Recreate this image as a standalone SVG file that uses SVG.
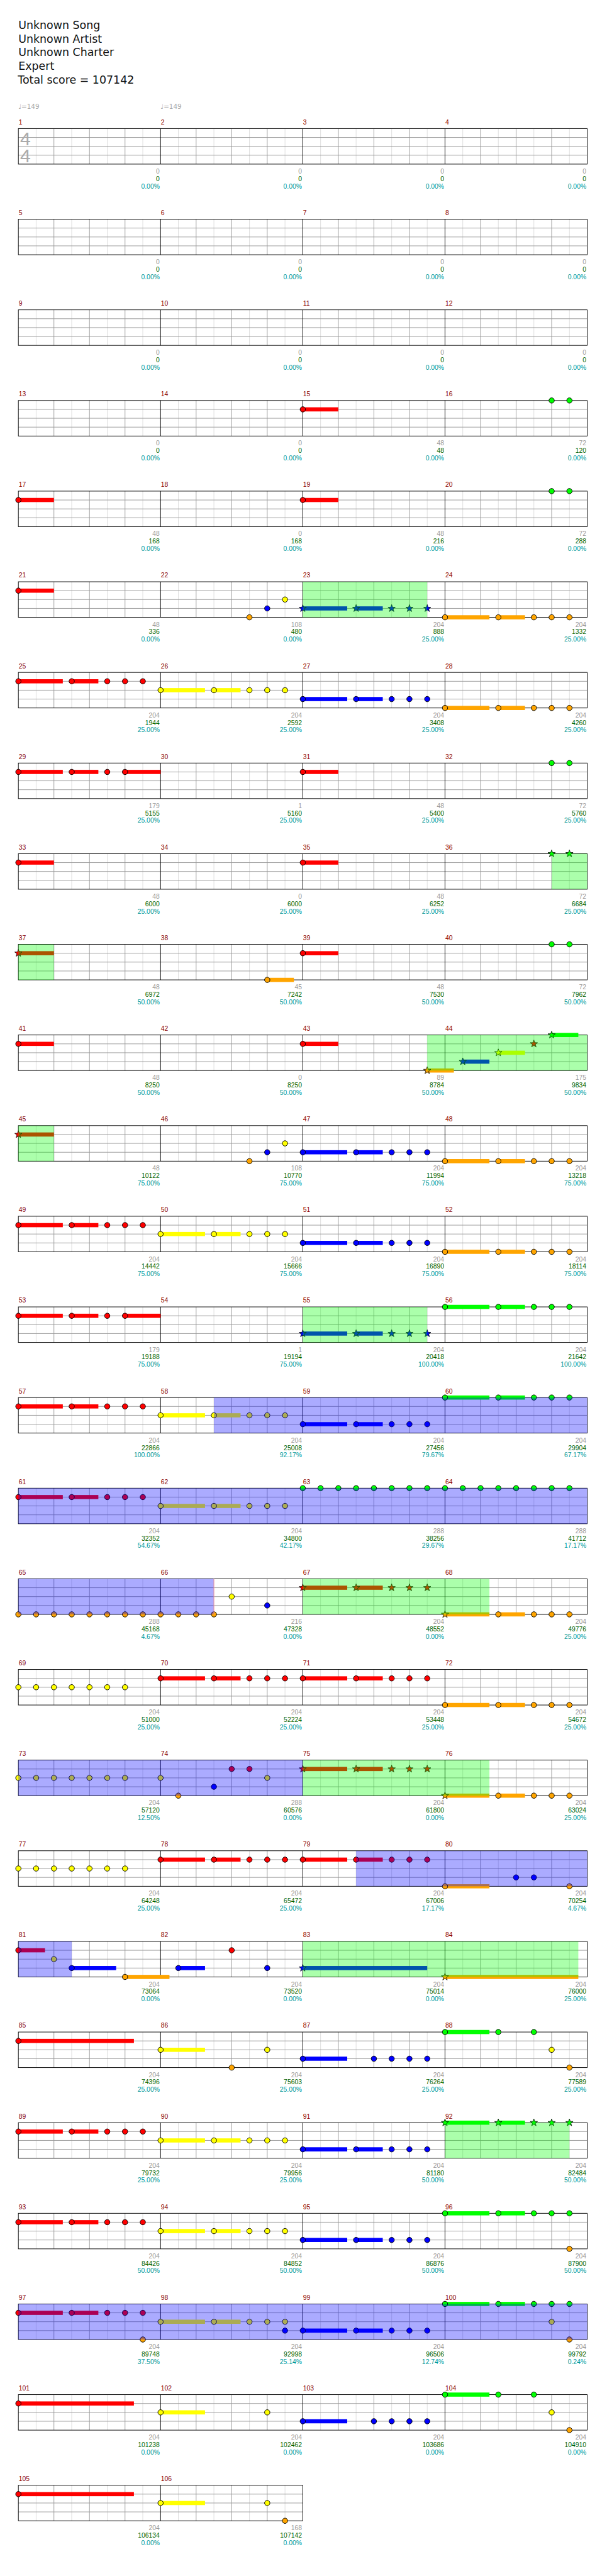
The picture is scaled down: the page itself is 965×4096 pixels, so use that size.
<svg xmlns="http://www.w3.org/2000/svg" xmlns:xlink="http://www.w3.org/1999/xlink" width="965" height="4096" viewBox="0 0 965 4096">
<style>
text{font-family:"Liberation Sans",Arial,sans-serif;font-size:11px}
.t{font-family:"DejaVu Sans",sans-serif;font-size:18.5px;fill:#111}
.mn{fill:#8b0000}
.s1{fill:#999;text-anchor:end}
.s2{fill:#006400;text-anchor:end}
.s3{fill:#099;text-anchor:end}
.tempo{fill:#aaa;font-family:"DejaVu Sans",sans-serif}
.ts{font-size:32px;fill:#aaa}
.g{fill:#0f0}.r{fill:#f00}.y{fill:#ff0}.b{fill:#00f}.o{fill:#ffa500}
.og{fill:#0f0;fill-opacity:.33}
.ob{fill:#00f;fill-opacity:.33}
</style>
<defs>
<g id="staff">
<path fill="none" stroke="#ddd" d="M30,0V60M90,0V60M150,0V60M210,0V60M270,0V60M330,0V60M390,0V60M450,0V60M510,0V60M570,0V60M630,0V60M690,0V60M750,0V60M810,0V60M870,0V60M930,0V60"/>
<path fill="none" stroke="#999" d="M0,15H960M0,30H960M0,45H960M60,0V60M120,0V60M180,0V60M300,0V60M360,0V60M420,0V60M540,0V60M600,0V60M660,0V60M780,0V60M840,0V60M900,0V60"/>
<path fill="none" stroke="#000" d="M240,0V60M480,0V60M720,0V60"/>
<rect width="960" height="60" fill="none" stroke="#000"/>
</g>
<g id="staff2">
<path fill="none" stroke="#ddd" d="M30,0V60M90,0V60M150,0V60M210,0V60M270,0V60M330,0V60M390,0V60M450,0V60"/>
<path fill="none" stroke="#999" d="M0,15H480M0,30H480M0,45H480M60,0V60M120,0V60M180,0V60M300,0V60M360,0V60M420,0V60"/>
<path fill="none" stroke="#000" d="M240,0V60"/>
<rect width="480" height="60" fill="none" stroke="#000"/>
</g>
<circle id="c" r="4.5" stroke="#000"/>
<path id="st" stroke="#000" stroke-width=".8" d="M0,-6.5L1.53,-2.1L6.18,-2.01L2.47,.8L3.82,5.26L0,2.6L-3.82,5.26L-2.47,.8L-6.18,-2.01L-1.53,-2.1Z"/>
<g id="P"><rect y="-3.5" width="75" height="7"/><rect x="90" y="-3.5" width="45" height="7"/><use href="#c"/><use href="#c" x="90"/><use href="#c" x="150"/><use href="#c" x="180"/><use href="#c" x="210"/></g>
<g id="PS"><rect y="-3.5" width="75" height="7"/><rect x="90" y="-3.5" width="45" height="7"/><use href="#st"/><use href="#st" x="90"/><use href="#st" x="150"/><use href="#st" x="180"/><use href="#st" x="210"/></g>
<g id="Q"><rect y="-3.5" width="75" height="7"/><rect x="90" y="-3.5" width="45" height="7"/><rect x="180" y="-3.5" width="60" height="7"/><use href="#c"/><use href="#c" x="90"/><use href="#c" x="150"/><use href="#c" x="180"/></g>
<g id="S1"><rect y="-3.5" width="60" height="7"/><use href="#c"/></g>
<g id="SS1"><rect y="-3.5" width="60" height="7"/><use href="#st"/></g>
<g id="T"><rect y="-3.5" width="45" height="7"/><use href="#st"/></g>
<g id="C45"><rect y="-3.5" width="45" height="7"/><use href="#c"/></g>
<g id="C75"><rect y="-3.5" width="75" height="7"/><use href="#c"/></g>
<g id="T75"><rect y="-3.5" width="75" height="7"/><use href="#st"/></g>
<g id="G2"><use href="#c"/><use href="#c" x="30"/></g>
<g id="E7"><use href="#c"/><use href="#c" x="30"/><use href="#c" x="60"/><use href="#c" x="90"/><use href="#c" x="120"/><use href="#c" x="150"/><use href="#c" x="180"/></g>
<g id="L"><rect y="-3.5" width="195" height="7"/><use href="#c"/></g>
<g id="zero">
<g class="s1"><text x="238.5" y="76">0</text><text x="478.5" y="76">0</text><text x="718.5" y="76">0</text><text x="958.5" y="76">0</text></g>
<g class="s2"><text x="238.5" y="88.5">0</text><text x="478.5" y="88.5">0</text><text x="718.5" y="88.5">0</text><text x="958.5" y="88.5">0</text></g>
<g class="s3"><text x="238.5" y="101">0.00%</text><text x="478.5" y="101">0.00%</text><text x="718.5" y="101">0.00%</text><text x="958.5" y="101">0.00%</text></g>
</g>
</defs>
<rect width="965" height="4096" fill="#fff"/>
<g transform="scale(0.942)">
<g id="header">
<text class="t" x="31" y="49">Unknown Song</text>
<text class="t" x="31" y="72">Unknown Artist</text>
<text class="t" x="31" y="95">Unknown Charter</text>
<text class="t" x="31" y="118">Expert</text>
<text class="t" x="30" y="141">Total score = 107142</text>
<text class="tempo" x="31" y="184">♩=149</text>
<text class="tempo" x="271" y="184">♩=149</text>
</g>

<g id="row1" transform="translate(31 217)">
<use href="#staff"/>
<text class="ts" x="3" y="28">4</text><text class="ts" x="3" y="57">4</text>
<g class="mn"><text x="0.5" y="-7">1</text><text x="240.5" y="-7">2</text><text x="480.5" y="-7">3</text><text x="720.5" y="-7">4</text></g>
<use href="#zero"/>
</g>

<g id="row2" transform="translate(31 370)">
<use href="#staff"/>
<g class="mn"><text x="0.5" y="-7">5</text><text x="240.5" y="-7">6</text><text x="480.5" y="-7">7</text><text x="720.5" y="-7">8</text></g>
<use href="#zero"/>
</g>

<g id="row3" transform="translate(31 523)">
<use href="#staff"/>
<g class="mn"><text x="0.5" y="-7">9</text><text x="240.5" y="-7">10</text><text x="480.5" y="-7">11</text><text x="720.5" y="-7">12</text></g>
<use href="#zero"/>
</g>

<g id="row4" transform="translate(31 676)">
<use href="#staff"/>
<g class="mn"><text x="0.5" y="-7">13</text><text x="240.5" y="-7">14</text><text x="480.5" y="-7">15</text><text x="720.5" y="-7">16</text></g>
<use href="#S1" x="480" y="15" class="r"/>
<use href="#G2" x="900" class="g"/>
<g class="s1"><text x="238.5" y="76">0</text><text x="478.5" y="76">0</text><text x="718.5" y="76">48</text><text x="958.5" y="76">72</text></g>
<g class="s2"><text x="238.5" y="88.5">0</text><text x="478.5" y="88.5">0</text><text x="718.5" y="88.5">48</text><text x="958.5" y="88.5">120</text></g>
<g class="s3"><text x="238.5" y="101">0.00%</text><text x="478.5" y="101">0.00%</text><text x="718.5" y="101">0.00%</text><text x="958.5" y="101">0.00%</text></g>
</g>

<g id="row5" transform="translate(31 829)">
<use href="#staff"/>
<g class="mn"><text x="0.5" y="-7">17</text><text x="240.5" y="-7">18</text><text x="480.5" y="-7">19</text><text x="720.5" y="-7">20</text></g>
<use href="#S1" y="15" class="r"/>
<use href="#S1" x="480" y="15" class="r"/>
<use href="#G2" x="900" class="g"/>
<g class="s1"><text x="238.5" y="76">48</text><text x="478.5" y="76">0</text><text x="718.5" y="76">48</text><text x="958.5" y="76">72</text></g>
<g class="s2"><text x="238.5" y="88.5">168</text><text x="478.5" y="88.5">168</text><text x="718.5" y="88.5">216</text><text x="958.5" y="88.5">288</text></g>
<g class="s3"><text x="238.5" y="101">0.00%</text><text x="478.5" y="101">0.00%</text><text x="718.5" y="101">0.00%</text><text x="958.5" y="101">0.00%</text></g>
</g>

<g id="row6" transform="translate(31 982)">
<use href="#staff"/>
<g class="mn"><text x="0.5" y="-7">21</text><text x="240.5" y="-7">22</text><text x="480.5" y="-7">23</text><text x="720.5" y="-7">24</text></g>
<use href="#S1" y="15" class="r"/>
<use href="#c" x="390" y="60" class="o"/>
<use href="#c" x="420" y="45" class="b"/>
<use href="#c" x="450" y="30" class="y"/>
<use href="#PS" x="480" y="45" class="b"/>
<use href="#P" x="720" y="60" class="o"/>
<rect class="og" x="480" width="210" height="60"/>
<g class="s1"><text x="238.5" y="76">48</text><text x="478.5" y="76">108</text><text x="718.5" y="76">204</text><text x="958.5" y="76">204</text></g>
<g class="s2"><text x="238.5" y="88.5">336</text><text x="478.5" y="88.5">480</text><text x="718.5" y="88.5">888</text><text x="958.5" y="88.5">1332</text></g>
<g class="s3"><text x="238.5" y="101">0.00%</text><text x="478.5" y="101">0.00%</text><text x="718.5" y="101">25.00%</text><text x="958.5" y="101">25.00%</text></g>
</g>

<g id="row7" transform="translate(31 1135)">
<use href="#staff"/>
<g class="mn"><text x="0.5" y="-7">25</text><text x="240.5" y="-7">26</text><text x="480.5" y="-7">27</text><text x="720.5" y="-7">28</text></g>
<use href="#P" y="15" class="r"/>
<use href="#P" x="240" y="30" class="y"/>
<use href="#P" x="480" y="45" class="b"/>
<use href="#P" x="720" y="60" class="o"/>
<g class="s1"><text x="238.5" y="76">204</text><text x="478.5" y="76">204</text><text x="718.5" y="76">204</text><text x="958.5" y="76">204</text></g>
<g class="s2"><text x="238.5" y="88.5">1944</text><text x="478.5" y="88.5">2592</text><text x="718.5" y="88.5">3408</text><text x="958.5" y="88.5">4260</text></g>
<g class="s3"><text x="238.5" y="101">25.00%</text><text x="478.5" y="101">25.00%</text><text x="718.5" y="101">25.00%</text><text x="958.5" y="101">25.00%</text></g>
</g>

<g id="row8" transform="translate(31 1288)">
<use href="#staff"/>
<g class="mn"><text x="0.5" y="-7">29</text><text x="240.5" y="-7">30</text><text x="480.5" y="-7">31</text><text x="720.5" y="-7">32</text></g>
<use href="#Q" y="15" class="r"/>
<use href="#S1" x="480" y="15" class="r"/>
<use href="#G2" x="900" class="g"/>
<g class="s1"><text x="238.5" y="76">179</text><text x="478.5" y="76">1</text><text x="718.5" y="76">48</text><text x="958.5" y="76">72</text></g>
<g class="s2"><text x="238.5" y="88.5">5155</text><text x="478.5" y="88.5">5160</text><text x="718.5" y="88.5">5400</text><text x="958.5" y="88.5">5760</text></g>
<g class="s3"><text x="238.5" y="101">25.00%</text><text x="478.5" y="101">25.00%</text><text x="718.5" y="101">25.00%</text><text x="958.5" y="101">25.00%</text></g>
</g>

<g id="row9" transform="translate(31 1441)">
<use href="#staff"/>
<g class="mn"><text x="0.5" y="-7">33</text><text x="240.5" y="-7">34</text><text x="480.5" y="-7">35</text><text x="720.5" y="-7">36</text></g>
<use href="#S1" y="15" class="r"/>
<use href="#S1" x="480" y="15" class="r"/>
<use href="#st" x="900" class="g"/><use href="#st" x="930" class="g"/>
<rect class="og" x="900" width="60" height="60"/>
<g class="s1"><text x="238.5" y="76">48</text><text x="478.5" y="76">0</text><text x="718.5" y="76">48</text><text x="958.5" y="76">72</text></g>
<g class="s2"><text x="238.5" y="88.5">6000</text><text x="478.5" y="88.5">6000</text><text x="718.5" y="88.5">6252</text><text x="958.5" y="88.5">6684</text></g>
<g class="s3"><text x="238.5" y="101">25.00%</text><text x="478.5" y="101">25.00%</text><text x="718.5" y="101">25.00%</text><text x="958.5" y="101">25.00%</text></g>
</g>

<g id="row10" transform="translate(31 1594)">
<use href="#staff"/>
<g class="mn"><text x="0.5" y="-7">37</text><text x="240.5" y="-7">38</text><text x="480.5" y="-7">39</text><text x="720.5" y="-7">40</text></g>
<use href="#SS1" y="15" class="r"/>
<use href="#C45" x="420" y="60" class="o"/>
<use href="#S1" x="480" y="15" class="r"/>
<use href="#G2" x="900" class="g"/>
<rect class="og" width="60" height="60"/>
<g class="s1"><text x="238.5" y="76">48</text><text x="478.5" y="76">45</text><text x="718.5" y="76">48</text><text x="958.5" y="76">72</text></g>
<g class="s2"><text x="238.5" y="88.5">6972</text><text x="478.5" y="88.5">7242</text><text x="718.5" y="88.5">7530</text><text x="958.5" y="88.5">7962</text></g>
<g class="s3"><text x="238.5" y="101">50.00%</text><text x="478.5" y="101">50.00%</text><text x="718.5" y="101">50.00%</text><text x="958.5" y="101">50.00%</text></g>
</g>

<g id="row11" transform="translate(31 1747)">
<use href="#staff"/>
<g class="mn"><text x="0.5" y="-7">41</text><text x="240.5" y="-7">42</text><text x="480.5" y="-7">43</text><text x="720.5" y="-7">44</text></g>
<use href="#S1" y="15" class="r"/>
<use href="#S1" x="480" y="15" class="r"/>
<use href="#T" x="690" y="60" class="o"/>
<use href="#T" x="750" y="45" class="b"/>
<use href="#T" x="810" y="30" class="y"/>
<use href="#st" x="870" y="15" class="r"/>
<use href="#T" x="900" y="0" class="g"/>
<rect class="og" x="690" width="270" height="60"/>
<g class="s1"><text x="238.5" y="76">48</text><text x="478.5" y="76">0</text><text x="718.5" y="76">89</text><text x="958.5" y="76">175</text></g>
<g class="s2"><text x="238.5" y="88.5">8250</text><text x="478.5" y="88.5">8250</text><text x="718.5" y="88.5">8784</text><text x="958.5" y="88.5">9834</text></g>
<g class="s3"><text x="238.5" y="101">50.00%</text><text x="478.5" y="101">50.00%</text><text x="718.5" y="101">50.00%</text><text x="958.5" y="101">50.00%</text></g>
</g>

<g id="row12" transform="translate(31 1900)">
<use href="#staff"/>
<g class="mn"><text x="0.5" y="-7">45</text><text x="240.5" y="-7">46</text><text x="480.5" y="-7">47</text><text x="720.5" y="-7">48</text></g>
<use href="#SS1" y="15" class="r"/>
<use href="#c" x="390" y="60" class="o"/>
<use href="#c" x="420" y="45" class="b"/>
<use href="#c" x="450" y="30" class="y"/>
<use href="#P" x="480" y="45" class="b"/>
<use href="#P" x="720" y="60" class="o"/>
<rect class="og" width="60" height="60"/>
<g class="s1"><text x="238.5" y="76">48</text><text x="478.5" y="76">108</text><text x="718.5" y="76">204</text><text x="958.5" y="76">204</text></g>
<g class="s2"><text x="238.5" y="88.5">10122</text><text x="478.5" y="88.5">10770</text><text x="718.5" y="88.5">11994</text><text x="958.5" y="88.5">13218</text></g>
<g class="s3"><text x="238.5" y="101">75.00%</text><text x="478.5" y="101">75.00%</text><text x="718.5" y="101">75.00%</text><text x="958.5" y="101">75.00%</text></g>
</g>

<g id="row13" transform="translate(31 2053)">
<use href="#staff"/>
<g class="mn"><text x="0.5" y="-7">49</text><text x="240.5" y="-7">50</text><text x="480.5" y="-7">51</text><text x="720.5" y="-7">52</text></g>
<use href="#P" y="15" class="r"/>
<use href="#P" x="240" y="30" class="y"/>
<use href="#P" x="480" y="45" class="b"/>
<use href="#P" x="720" y="60" class="o"/>
<g class="s1"><text x="238.5" y="76">204</text><text x="478.5" y="76">204</text><text x="718.5" y="76">204</text><text x="958.5" y="76">204</text></g>
<g class="s2"><text x="238.5" y="88.5">14442</text><text x="478.5" y="88.5">15666</text><text x="718.5" y="88.5">16890</text><text x="958.5" y="88.5">18114</text></g>
<g class="s3"><text x="238.5" y="101">75.00%</text><text x="478.5" y="101">75.00%</text><text x="718.5" y="101">75.00%</text><text x="958.5" y="101">75.00%</text></g>
</g>

<g id="row14" transform="translate(31 2206)">
<use href="#staff"/>
<g class="mn"><text x="0.5" y="-7">53</text><text x="240.5" y="-7">54</text><text x="480.5" y="-7">55</text><text x="720.5" y="-7">56</text></g>
<use href="#Q" y="15" class="r"/>
<use href="#PS" x="480" y="45" class="b"/>
<use href="#P" x="720" y="0" class="g"/>
<rect class="og" x="480" width="210" height="60"/>
<g class="s1"><text x="238.5" y="76">179</text><text x="478.5" y="76">1</text><text x="718.5" y="76">204</text><text x="958.5" y="76">204</text></g>
<g class="s2"><text x="238.5" y="88.5">19188</text><text x="478.5" y="88.5">19194</text><text x="718.5" y="88.5">20418</text><text x="958.5" y="88.5">21642</text></g>
<g class="s3"><text x="238.5" y="101">75.00%</text><text x="478.5" y="101">75.00%</text><text x="718.5" y="101">100.00%</text><text x="958.5" y="101">100.00%</text></g>
</g>

<g id="row15" transform="translate(31 2359)">
<use href="#staff"/>
<g class="mn"><text x="0.5" y="-7">57</text><text x="240.5" y="-7">58</text><text x="480.5" y="-7">59</text><text x="720.5" y="-7">60</text></g>
<use href="#P" y="15" class="r"/>
<use href="#P" x="240" y="30" class="y"/>
<use href="#P" x="480" y="45" class="b"/>
<use href="#P" x="720" y="0" class="g"/>
<rect class="ob" x="330" width="630" height="60"/>
<g class="s1"><text x="238.5" y="76">204</text><text x="478.5" y="76">204</text><text x="718.5" y="76">204</text><text x="958.5" y="76">204</text></g>
<g class="s2"><text x="238.5" y="88.5">22866</text><text x="478.5" y="88.5">25008</text><text x="718.5" y="88.5">27456</text><text x="958.5" y="88.5">29904</text></g>
<g class="s3"><text x="238.5" y="101">100.00%</text><text x="478.5" y="101">92.17%</text><text x="718.5" y="101">79.67%</text><text x="958.5" y="101">67.17%</text></g>
</g>

<g id="row16" transform="translate(31 2512)">
<use href="#staff"/>
<g class="mn"><text x="0.5" y="-7">61</text><text x="240.5" y="-7">62</text><text x="480.5" y="-7">63</text><text x="720.5" y="-7">64</text></g>
<use href="#P" y="15" class="r"/>
<use href="#P" x="240" y="30" class="y"/>
<g class="g"><use href="#c" x="480"/><use href="#c" x="510"/><use href="#c" x="540"/><use href="#c" x="570"/><use href="#c" x="600"/><use href="#c" x="630"/><use href="#c" x="660"/><use href="#c" x="690"/><use href="#c" x="720"/><use href="#c" x="750"/><use href="#c" x="780"/><use href="#c" x="810"/><use href="#c" x="840"/><use href="#c" x="870"/><use href="#c" x="900"/><use href="#c" x="930"/></g>
<rect class="ob" width="960" height="60"/>
<g class="s1"><text x="238.5" y="76">204</text><text x="478.5" y="76">204</text><text x="718.5" y="76">288</text><text x="958.5" y="76">288</text></g>
<g class="s2"><text x="238.5" y="88.5">32352</text><text x="478.5" y="88.5">34800</text><text x="718.5" y="88.5">38256</text><text x="958.5" y="88.5">41712</text></g>
<g class="s3"><text x="238.5" y="101">54.67%</text><text x="478.5" y="101">42.17%</text><text x="718.5" y="101">29.67%</text><text x="958.5" y="101">17.17%</text></g>
</g>

<g id="row17" transform="translate(31 2665)">
<use href="#staff"/>
<g class="mn"><text x="0.5" y="-7">65</text><text x="240.5" y="-7">66</text><text x="480.5" y="-7">67</text><text x="720.5" y="-7">68</text></g>
<g class="o"><use href="#c" x="0" y="60"/><use href="#c" x="30" y="60"/><use href="#c" x="60" y="60"/><use href="#c" x="90" y="60"/><use href="#c" x="120" y="60"/><use href="#c" x="150" y="60"/><use href="#c" x="180" y="60"/><use href="#c" x="210" y="60"/><use href="#c" x="240" y="60"/><use href="#c" x="270" y="60"/><use href="#c" x="300" y="60"/><use href="#c" x="330" y="60"/></g>
<use href="#c" x="360" y="30" class="y"/>
<use href="#c" x="420" y="45" class="b"/>
<use href="#PS" x="480" y="15" class="r"/>
<use href="#T75" x="720" y="60" class="o"/>
<use href="#C45" x="810" y="60" class="o"/>
<g class="o"><use href="#c" x="870" y="60"/><use href="#c" x="900" y="60"/><use href="#c" x="930" y="60"/></g>
<rect class="ob" width="330" height="60"/>
<path d="M330,0V60" stroke="#f99"/>
<rect class="og" x="480" width="315" height="60"/>
<g class="s1"><text x="238.5" y="76">288</text><text x="478.5" y="76">216</text><text x="718.5" y="76">204</text><text x="958.5" y="76">204</text></g>
<g class="s2"><text x="238.5" y="88.5">45168</text><text x="478.5" y="88.5">47328</text><text x="718.5" y="88.5">48552</text><text x="958.5" y="88.5">49776</text></g>
<g class="s3"><text x="238.5" y="101">4.67%</text><text x="478.5" y="101">0.00%</text><text x="718.5" y="101">0.00%</text><text x="958.5" y="101">25.00%</text></g>
</g>

<g id="row18" transform="translate(31 2818)">
<use href="#staff"/>
<g class="mn"><text x="0.5" y="-7">69</text><text x="240.5" y="-7">70</text><text x="480.5" y="-7">71</text><text x="720.5" y="-7">72</text></g>
<use href="#E7" y="30" class="y"/>
<use href="#P" x="240" y="15" class="r"/>
<use href="#P" x="480" y="15" class="r"/>
<use href="#P" x="720" y="60" class="o"/>
<g class="s1"><text x="238.5" y="76">204</text><text x="478.5" y="76">204</text><text x="718.5" y="76">204</text><text x="958.5" y="76">204</text></g>
<g class="s2"><text x="238.5" y="88.5">51000</text><text x="478.5" y="88.5">52224</text><text x="718.5" y="88.5">53448</text><text x="958.5" y="88.5">54672</text></g>
<g class="s3"><text x="238.5" y="101">25.00%</text><text x="478.5" y="101">25.00%</text><text x="718.5" y="101">25.00%</text><text x="958.5" y="101">25.00%</text></g>
</g>

<g id="row19" transform="translate(31 2971)">
<use href="#staff"/>
<g class="mn"><text x="0.5" y="-7">73</text><text x="240.5" y="-7">74</text><text x="480.5" y="-7">75</text><text x="720.5" y="-7">76</text></g>
<use href="#E7" y="30" class="y"/>
<use href="#c" x="240" y="30" class="y"/>
<use href="#c" x="270" y="60" class="o"/>
<use href="#c" x="330" y="45" class="b"/>
<use href="#c" x="360" y="15" class="r"/>
<use href="#c" x="390" y="15" class="r"/>
<use href="#c" x="420" y="30" class="y"/>
<use href="#PS" x="480" y="15" class="r"/>
<use href="#T75" x="720" y="60" class="o"/>
<use href="#C45" x="810" y="60" class="o"/>
<g class="o"><use href="#c" x="870" y="60"/><use href="#c" x="900" y="60"/><use href="#c" x="930" y="60"/></g>
<rect class="ob" width="480" height="60"/>
<rect class="og" x="480" width="315" height="60"/>
<g class="s1"><text x="238.5" y="76">204</text><text x="478.5" y="76">288</text><text x="718.5" y="76">204</text><text x="958.5" y="76">204</text></g>
<g class="s2"><text x="238.5" y="88.5">57120</text><text x="478.5" y="88.5">60576</text><text x="718.5" y="88.5">61800</text><text x="958.5" y="88.5">63024</text></g>
<g class="s3"><text x="238.5" y="101">12.50%</text><text x="478.5" y="101">0.00%</text><text x="718.5" y="101">0.00%</text><text x="958.5" y="101">25.00%</text></g>
</g>

<g id="row20" transform="translate(31 3124)">
<use href="#staff"/>
<g class="mn"><text x="0.5" y="-7">77</text><text x="240.5" y="-7">78</text><text x="480.5" y="-7">79</text><text x="720.5" y="-7">80</text></g>
<use href="#E7" y="30" class="y"/>
<use href="#P" x="240" y="15" class="r"/>
<use href="#P" x="480" y="15" class="r"/>
<use href="#C75" x="720" y="60" class="o"/>
<g class="b"><use href="#c" x="840" y="45"/><use href="#c" x="870" y="45"/></g>
<use href="#c" x="930" y="60" class="o"/>
<rect class="ob" x="570" width="390" height="60"/>
<g class="s1"><text x="238.5" y="76">204</text><text x="478.5" y="76">204</text><text x="718.5" y="76">204</text><text x="958.5" y="76">204</text></g>
<g class="s2"><text x="238.5" y="88.5">64248</text><text x="478.5" y="88.5">65472</text><text x="718.5" y="88.5">67006</text><text x="958.5" y="88.5">70254</text></g>
<g class="s3"><text x="238.5" y="101">25.00%</text><text x="478.5" y="101">25.00%</text><text x="718.5" y="101">17.17%</text><text x="958.5" y="101">4.67%</text></g>
</g>

<g id="row21" transform="translate(31 3277)">
<use href="#staff"/>
<g class="mn"><text x="0.5" y="-7">81</text><text x="240.5" y="-7">82</text><text x="480.5" y="-7">83</text><text x="720.5" y="-7">84</text></g>
<use href="#C45" y="15" class="r"/>
<use href="#c" x="60" y="30" class="y"/>
<use href="#C75" x="90" y="45" class="b"/>
<use href="#C75" x="180" y="60" class="o"/>
<use href="#C45" x="270" y="45" class="b"/>
<use href="#c" x="360" y="15" class="r"/>
<use href="#c" x="420" y="45" class="b"/>
<g class="b"><rect x="480" y="41.5" width="210" height="7"/><use href="#st" x="480" y="45"/></g>
<g class="o"><rect x="720" y="56.5" width="225" height="7"/><use href="#st" x="720" y="60"/></g>
<rect class="ob" width="90" height="60"/>
<rect class="og" x="480" width="465" height="60"/>
<g class="s1"><text x="238.5" y="76">204</text><text x="478.5" y="76">204</text><text x="718.5" y="76">204</text><text x="958.5" y="76">204</text></g>
<g class="s2"><text x="238.5" y="88.5">73064</text><text x="478.5" y="88.5">73520</text><text x="718.5" y="88.5">75014</text><text x="958.5" y="88.5">76000</text></g>
<g class="s3"><text x="238.5" y="101">0.00%</text><text x="478.5" y="101">0.00%</text><text x="718.5" y="101">0.00%</text><text x="958.5" y="101">25.00%</text></g>
</g>

<g id="row22" transform="translate(31 3430)">
<use href="#staff"/>
<g class="mn"><text x="0.5" y="-7">85</text><text x="240.5" y="-7">86</text><text x="480.5" y="-7">87</text><text x="720.5" y="-7">88</text></g>
<use href="#L" y="15" class="r"/>
<use href="#C75" x="240" y="30" class="y"/>
<use href="#c" x="420" y="30" class="y"/>
<use href="#c" x="360" y="60" class="o"/>
<use href="#C75" x="480" y="45" class="b"/>
<g class="b"><use href="#c" x="600" y="45"/><use href="#c" x="630" y="45"/><use href="#c" x="660" y="45"/><use href="#c" x="690" y="45"/></g>
<use href="#C75" x="720" y="0" class="g"/>
<g class="g"><use href="#c" x="810"/><use href="#c" x="870"/></g>
<use href="#c" x="900" y="30" class="y"/>
<use href="#c" x="930" y="60" class="o"/>
<g class="s1"><text x="238.5" y="76">204</text><text x="478.5" y="76">204</text><text x="718.5" y="76">204</text><text x="958.5" y="76">204</text></g>
<g class="s2"><text x="238.5" y="88.5">74396</text><text x="478.5" y="88.5">75603</text><text x="718.5" y="88.5">76264</text><text x="958.5" y="88.5">77589</text></g>
<g class="s3"><text x="238.5" y="101">25.00%</text><text x="478.5" y="101">25.00%</text><text x="718.5" y="101">25.00%</text><text x="958.5" y="101">25.00%</text></g>
</g>

<g id="row23" transform="translate(31 3583)">
<use href="#staff"/>
<g class="mn"><text x="0.5" y="-7">89</text><text x="240.5" y="-7">90</text><text x="480.5" y="-7">91</text><text x="720.5" y="-7">92</text></g>
<use href="#P" y="15" class="r"/>
<use href="#P" x="240" y="30" class="y"/>
<use href="#P" x="480" y="45" class="b"/>
<use href="#PS" x="720" y="0" class="g"/>
<rect class="og" x="720" width="210" height="60"/>
<g class="s1"><text x="238.5" y="76">204</text><text x="478.5" y="76">204</text><text x="718.5" y="76">204</text><text x="958.5" y="76">204</text></g>
<g class="s2"><text x="238.5" y="88.5">79732</text><text x="478.5" y="88.5">79956</text><text x="718.5" y="88.5">81180</text><text x="958.5" y="88.5">82484</text></g>
<g class="s3"><text x="238.5" y="101">25.00%</text><text x="478.5" y="101">25.00%</text><text x="718.5" y="101">50.00%</text><text x="958.5" y="101">50.00%</text></g>
</g>

<g id="row24" transform="translate(31 3736)">
<use href="#staff"/>
<g class="mn"><text x="0.5" y="-7">93</text><text x="240.5" y="-7">94</text><text x="480.5" y="-7">95</text><text x="720.5" y="-7">96</text></g>
<use href="#P" y="15" class="r"/>
<use href="#P" x="240" y="30" class="y"/>
<use href="#P" x="480" y="45" class="b"/>
<use href="#P" x="720" y="0" class="g"/>
<use href="#c" x="930" y="60" class="o"/>
<g class="s1"><text x="238.5" y="76">204</text><text x="478.5" y="76">204</text><text x="718.5" y="76">204</text><text x="958.5" y="76">204</text></g>
<g class="s2"><text x="238.5" y="88.5">84426</text><text x="478.5" y="88.5">84852</text><text x="718.5" y="88.5">86876</text><text x="958.5" y="88.5">87900</text></g>
<g class="s3"><text x="238.5" y="101">50.00%</text><text x="478.5" y="101">50.00%</text><text x="718.5" y="101">50.00%</text><text x="958.5" y="101">50.00%</text></g>
</g>

<g id="row25" transform="translate(31 3889)">
<use href="#staff"/>
<g class="mn"><text x="0.5" y="-7">97</text><text x="240.5" y="-7">98</text><text x="480.5" y="-7">99</text><text x="720.5" y="-7">100</text></g>
<use href="#P" y="15" class="r"/>
<use href="#c" x="210" y="60" class="o"/>
<use href="#P" x="240" y="30" class="y"/>
<use href="#c" x="450" y="45" class="b"/>
<use href="#P" x="480" y="45" class="b"/>
<use href="#P" x="720" y="0" class="g"/>
<use href="#c" x="900" y="30" class="y"/>
<use href="#c" x="930" y="60" class="o"/>
<rect class="ob" width="960" height="60"/>
<g class="s1"><text x="238.5" y="76">204</text><text x="478.5" y="76">204</text><text x="718.5" y="76">204</text><text x="958.5" y="76">204</text></g>
<g class="s2"><text x="238.5" y="88.5">89748</text><text x="478.5" y="88.5">92998</text><text x="718.5" y="88.5">96506</text><text x="958.5" y="88.5">99792</text></g>
<g class="s3"><text x="238.5" y="101">37.50%</text><text x="478.5" y="101">25.14%</text><text x="718.5" y="101">12.74%</text><text x="958.5" y="101">0.24%</text></g>
</g>

<g id="row26" transform="translate(31 4042)">
<use href="#staff"/>
<g class="mn"><text x="0.5" y="-7">101</text><text x="240.5" y="-7">102</text><text x="480.5" y="-7">103</text><text x="720.5" y="-7">104</text></g>
<use href="#L" y="15" class="r"/>
<use href="#C75" x="240" y="30" class="y"/>
<use href="#c" x="420" y="30" class="y"/>
<use href="#C75" x="480" y="45" class="b"/>
<g class="b"><use href="#c" x="600" y="45"/><use href="#c" x="630" y="45"/><use href="#c" x="660" y="45"/><use href="#c" x="690" y="45"/></g>
<use href="#C75" x="720" y="0" class="g"/>
<g class="g"><use href="#c" x="810"/><use href="#c" x="870"/></g>
<use href="#c" x="900" y="30" class="y"/>
<use href="#c" x="930" y="60" class="o"/>
<g class="s1"><text x="238.5" y="76">204</text><text x="478.5" y="76">204</text><text x="718.5" y="76">204</text><text x="958.5" y="76">204</text></g>
<g class="s2"><text x="238.5" y="88.5">101238</text><text x="478.5" y="88.5">102462</text><text x="718.5" y="88.5">103686</text><text x="958.5" y="88.5">104910</text></g>
<g class="s3"><text x="238.5" y="101">0.00%</text><text x="478.5" y="101">0.00%</text><text x="718.5" y="101">0.00%</text><text x="958.5" y="101">0.00%</text></g>
</g>

<g id="row27" transform="translate(31 4195)">
<use href="#staff2"/>
<g class="mn"><text x="0.5" y="-7">105</text><text x="240.5" y="-7">106</text></g>
<use href="#L" y="15" class="r"/>
<use href="#C75" x="240" y="30" class="y"/>
<use href="#c" x="420" y="30" class="y"/>
<use href="#c" x="450" y="60" class="o"/>
<g class="s1"><text x="238.5" y="76">204</text><text x="478.5" y="76">168</text></g>
<g class="s2"><text x="238.5" y="88.5">106134</text><text x="478.5" y="88.5">107142</text></g>
<g class="s3"><text x="238.5" y="101">0.00%</text><text x="478.5" y="101">0.00%</text></g>
</g>
</g>
</svg>
